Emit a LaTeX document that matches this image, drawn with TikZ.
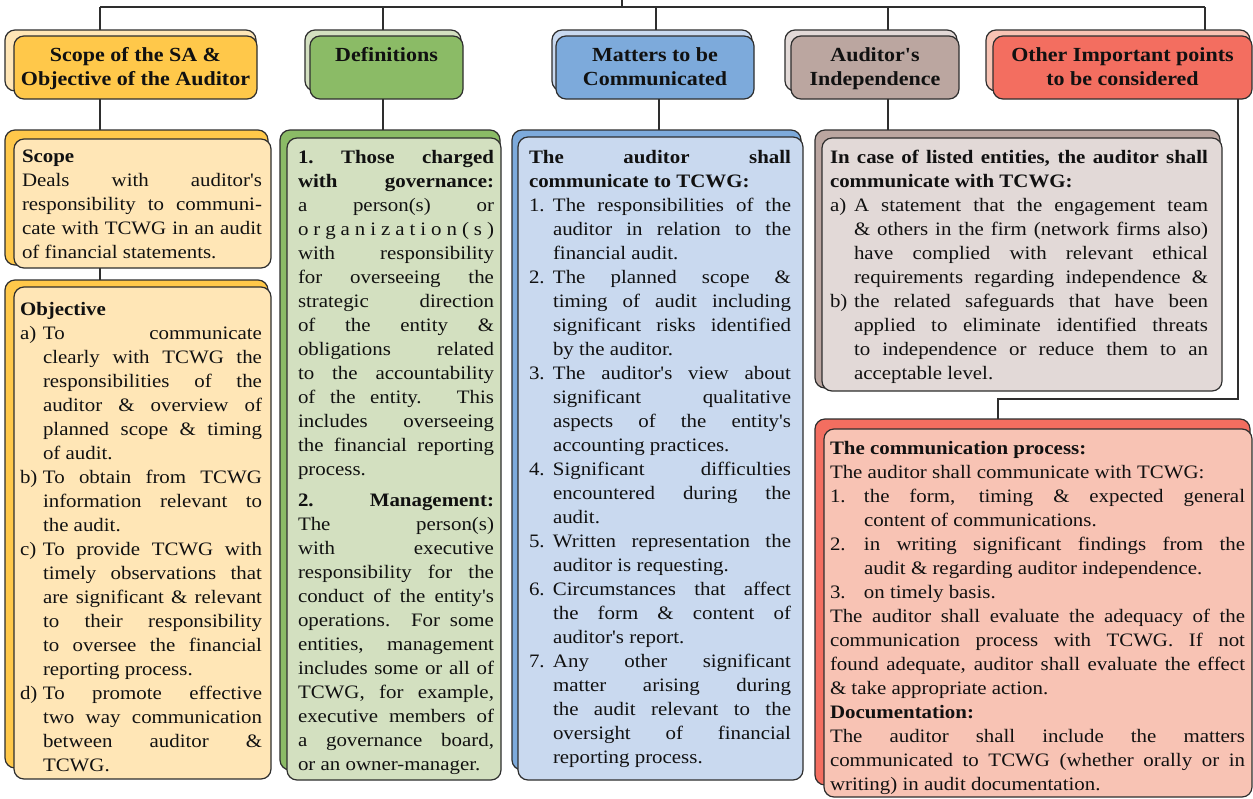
\documentclass[tikz,border=0pt]{standalone}
\usepackage{fontspec}
\setmainfont{Liberation Serif}[FakeStretch=1.1, Ligatures=TeXOff]
\usetikzlibrary{fit}
\definecolor{yD}{HTML}{FFC84A}
\definecolor{yL}{HTML}{FFE6B6}
\definecolor{gD}{HTML}{8BBB66}
\definecolor{gL}{HTML}{D3E0C0}
\definecolor{bD}{HTML}{7DAADB}
\definecolor{bL}{HTML}{C9D9EF}
\definecolor{pD}{HTML}{BBA6A0}
\definecolor{pL}{HTML}{E2D9D7}
\definecolor{rD}{HTML}{F36E60}
\definecolor{rL}{HTML}{F8C3B4}
\definecolor{ln}{HTML}{2E2E2E}
\definecolor{tx}{HTML}{111111}
\newcommand\dbl[5]{%
  \node[bx, fill=#4, fit={#2}] (#1B) {};
  \node[bx, fill=#5, fit={#3}] (#1) {};}
\newcommand\myitem[2]{\par\hangindent=#1\hangafter=1\noindent\makebox[#1][l]{#2}\ignorespaces}
\tikzset{
  bx/.style={draw=ln, line width=1.2pt, rounded corners=10pt, inner sep=0pt, outer sep=0pt},
  conn/.style={draw=ln, line width=1.3pt},
  htxt/.style={font=\fontsize{20}{23.5}\selectfont\bfseries, text=tx, align=center, inner sep=0pt, anchor=north},
  txt/.style={inner sep=0pt, outer sep=0pt, anchor=north west, align=justify, text=tx,
    font=\fontsize{19}{24}\selectfont,
    execute at begin node={\tolerance=10000\pretolerance=-1\hyphenpenalty=10000\exhyphenpenalty=10000\parindent=0pt\parskip=0pt}}
}
\begin{document}
\begin{tikzpicture}[x=1pt,y=-1pt]
\useasboundingbox[fill=white] (0,0) rectangle (1253,798);
% headers
\dbl{hScope}{(5,30) (256,91)}{(14,36) (257,99)}{yL}{yD}
\dbl{hDef}{(305,30) (461,91)}{(310,36) (463,99)}{gL}{gD}
\dbl{hMat}{(552,30) (752,91)}{(556,36) (754,99)}{bL}{bD}
\dbl{hInd}{(785,30) (957,91)}{(791,36) (959,99)}{pL}{pD}
\dbl{hOth}{(986,30) (1250,91)}{(993,36) (1252,99)}{rL}{rD}
% content boxes
\dbl{cScope}{(5,130) (268,265)}{(14,139) (271,268)}{yD}{yL}
\dbl{cObj}{(5,280) (268,768)}{(14,287) (271,779)}{yD}{yL}
\dbl{cDef}{(280,130) (500,770)}{(287,138) (501,780)}{gD}{gL}
\dbl{cMat}{(512,130) (801,770)}{(518,137) (803,780)}{bD}{bL}
\dbl{cInd}{(815,130) (1220,388)}{(822,138) (1222,391)}{pD}{pL}
\dbl{cCom}{(815,419) (1250,785)}{(824,429) (1252,797)}{rD}{rL}
% connectors
\coordinate (root) at (622,0);
\coordinate (bar) at (622,7);
\coordinate (jS) at (100,7);
\coordinate (jD) at (383,7);
\coordinate (jM) at (656,7);
\coordinate (kM) at (659,7);
\coordinate (jA) at (888,7);
\coordinate (jO) at (1205,7);
\coordinate (eO) at (1238,7);
\coordinate (tO) at (998,399);
\draw[conn] (root) -- (bar);
\draw[conn] (jS) -- (jO);
\draw[conn] (jS) -- (jS |- hScopeB.north);
\draw[conn] (jD) -- (jD |- hDefB.north);
\draw[conn] (jM) -- (jM |- hMatB.north);
\draw[conn] (jA) -- (jA |- hIndB.north);
\draw[conn] (jO) -- (jO |- hOthB.north);
\draw[conn] (hScope.south -| jS) -- (cScopeB.north -| jS);
\draw[conn] (hDef.south -| jD) -- (cDefB.north -| jD);
\draw[conn] (hMat.south -| kM) -- (cMatB.north -| kM);
\draw[conn] (hInd.south -| jA) -- (cIndB.north -| jA);
\draw[conn] (cScope.south -| jS) -- (cObjB.north -| jS);
\draw[conn] (hOth.south -| eO) |- (tO) -- (tO |- cComB.north);
% header texts
\node[htxt] (hScopeT) at ([yshift=-11.5pt]hScope.north) {Scope of the SA \&\\Objective of the Auditor};
\node[htxt] (hDefT) at ([yshift=-11.5pt]hDef.north) {Definitions};
\node[htxt] (hMatT) at ([yshift=-11.5pt]hMat.north) {Matters to be\\Communicated};
\node[htxt] (hIndT) at ([yshift=-11.5pt]hInd.north) {Auditor's\\Independence};
\node[htxt] (hOthT) at ([yshift=-11.5pt]hOth.north) {Other Important points\\to be considered};
% content texts
\node[txt, text width=240pt] (tScope) at (22,150) {%
{\bfseries Scope}\par
Deals with auditor's\linebreak
responsibility to communi-\linebreak
cate with TCWG in an audit\linebreak
of financial statements.\par};
\node[txt, text width=242pt] (tObj) at (20,302) {%
{\bfseries Objective}\par
\myitem{23pt}{a)}To communicate\linebreak
clearly with TCWG the\linebreak
responsibilities of the\linebreak
auditor \& overview of\linebreak
planned scope \& timing\linebreak
of audit.
\myitem{23pt}{b)}To obtain from TCWG\linebreak
information relevant to\linebreak
the audit.
\myitem{23pt}{c)}To provide TCWG with\linebreak
timely observations that\linebreak
are significant \& relevant\linebreak
to their responsibility\linebreak
to oversee the financial\linebreak
reporting process.
\myitem{23pt}{d)}To promote effective\linebreak
two way communication\linebreak
between auditor \&\linebreak
TCWG.\par};
\node[txt, text width=196pt] (tDef) at (298,150) {%
{\bfseries 1.\ Those charged\linebreak
with governance:}\linebreak
a person(s) or\linebreak
\hbox to\hsize{o\hfil r\hfil g\hfil a\hfil n\hfil i\hfil z\hfil a\hfil t\hfil i\hfil o\hfil n\hfil (\hfil s\hfil )}\linebreak
with responsibility\linebreak
for overseeing the\linebreak
strategic direction\linebreak
of the entity \&\linebreak
obligations related\linebreak
to the accountability\linebreak
of the entity. This\linebreak
includes overseeing\linebreak
the financial reporting\linebreak
process.\par
\vspace{7pt}
{\bfseries 2.\ Management:}\linebreak
The person(s)\linebreak
with executive\linebreak
responsibility for the\linebreak
conduct of the entity's\linebreak
operations. For some\linebreak
entities, management\linebreak
includes some or all of\linebreak
TCWG, for example,\linebreak
executive members of\linebreak
a governance board,\linebreak
or an owner-manager.\par};
\node[txt, text width=262pt] (tMat) at (529,150) {%
{\bfseries The auditor shall\linebreak
communicate to TCWG:}\par
\myitem{24pt}{1.}The responsibilities of the\linebreak
auditor in relation to the\linebreak
financial audit.
\myitem{24pt}{2.}The planned scope \&\linebreak
timing of audit including\linebreak
significant risks identified\linebreak
by the auditor.
\myitem{24pt}{3.}The auditor's view about\linebreak
significant qualitative\linebreak
aspects of the entity's\linebreak
accounting practices.
\myitem{24pt}{4.}Significant difficulties\linebreak
encountered during the\linebreak
audit.
\myitem{24pt}{5.}Written representation the\linebreak
auditor is requesting.
\myitem{24pt}{6.}Circumstances that affect\linebreak
the form \& content of\linebreak
auditor's report.
\myitem{24pt}{7.}Any other significant\linebreak
matter arising during\linebreak
the audit relevant to the\linebreak
oversight of financial\linebreak
reporting process.\par};
\node[txt, text width=378pt] (tInd) at (830,150) {%
{\bfseries In case of listed entities, the auditor shall\linebreak
communicate with TCWG:}\par
\myitem{24pt}{a)}A statement that the engagement team\linebreak
\& others in the firm (network firms also)\linebreak
have complied with relevant ethical\linebreak
requirements regarding independence \&{\parfillskip=0pt\par}
\myitem{24pt}{b)}the related safeguards that have been\linebreak
applied to eliminate identified threats\linebreak
to independence or reduce them to an\linebreak
acceptable level.\par};
\node[txt, text width=415pt] (tCom) at (830,441) {%
{\bfseries The communication process:}\par
The auditor shall communicate with TCWG:
\myitem{34pt}{1.}the form, timing \& expected general\linebreak
content of communications.
\myitem{34pt}{2.}in writing significant findings from the\linebreak
audit \& regarding auditor independence.
\myitem{34pt}{3.}on timely basis.\par
The auditor shall evaluate the adequacy of the\linebreak
communication process with TCWG. If not\linebreak
found adequate, auditor shall evaluate the effect\linebreak
\& take appropriate action.\par
{\bfseries Documentation:}\par
The auditor shall include the matters\linebreak
communicated to TCWG (whether orally or in\linebreak
writing) in audit documentation.\par};
\end{tikzpicture}
\end{document}
